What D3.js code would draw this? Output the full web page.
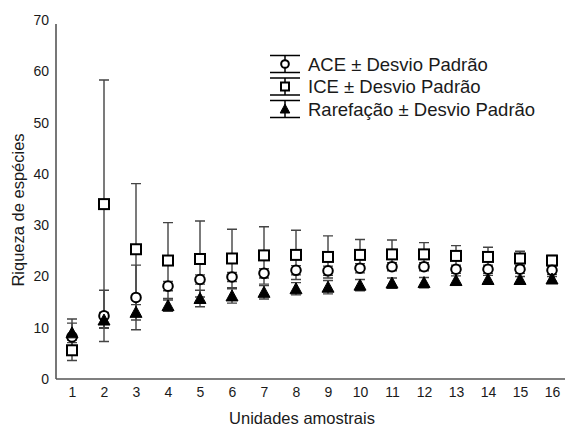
<!DOCTYPE html>
<html><head><meta charset="utf-8">
<script src="https://cdn.jsdelivr.net/npm/d3@7"></script>
<style>body{margin:0;background:#fff}svg{display:block;font-family:"Liberation Sans",Arial,sans-serif}</style>
</head><body><svg id="c" width="566" height="427"></svg>
<script>
const units = [1,2,3,4,5,6,7,8,9,10,11,12,13,14,15,16];
const ace    = [8.2,12.3,15.9,18.1,19.4,19.9,20.6,21.2,21.1,21.6,21.9,21.9,21.4,21.4,21.4,21.2];
const aceSd  = [3.5,5.0,6.3,0.9,0.9,0.9,0.9,0.9,0.9,0.9,0.8,0.8,0.8,0.8,0.8,0.8];
const ice    = [5.6,34.1,25.3,23.1,23.4,23.5,24.1,24.2,23.8,24.2,24.3,24.3,24.0,23.8,23.5,23.1];
const iceSd  = [2.0,24.2,12.8,7.4,7.4,5.7,5.6,4.8,4.1,3.0,2.8,2.3,2.0,1.9,1.4,1.0];
const rare   = [9.0,11.5,13.0,14.3,15.7,16.2,16.9,17.6,17.9,18.3,18.7,18.8,19.2,19.4,19.4,19.5];
const rareSd = [1.9,1.5,1.5,1.1,1.6,1.4,1.3,1.2,1.3,1.1,1.0,1.0,0.9,0.8,0.6,0.5];
const yTicks = [0,10,20,30,40,50,60,70];
const seriesNames = ["ACE ± Desvio Padrão","ICE ± Desvio Padrão","Rarefação ± Desvio Padrão"];

const svg = d3.select("#c");
const x = d3.scaleLinear().domain([1,16]).range([72,552]);
const y = d3.scaleLinear().domain([0,70]).range([379,20]);
const axisColor = "#555", textColor = "#1a1a1a";

// axes
const gy = svg.append("g").attr("transform","translate(56,0)")
  .call(d3.axisLeft(y).tickValues(yTicks).tickSize(0).tickPadding(7));
gy.select(".domain").attr("d",`M0,${y(69.2)}V${y(0)}`).attr("stroke",axisColor).attr("stroke-width",1.6);
gy.selectAll("text").attr("font-size",14).attr("fill",textColor).attr("font-family","Liberation Sans, Arial");

const gx = svg.append("g").attr("transform",`translate(0,${y(0)})`)
  .call(d3.axisBottom(x).tickValues(units).tickFormat(d3.format("d")).tickSize(0).tickPadding(8));
gx.select(".domain").attr("d",`M56,0H565`).attr("stroke",axisColor).attr("stroke-width",1.6);
gx.selectAll("text").attr("font-size",14).attr("fill",textColor).attr("font-family","Liberation Sans, Arial");

svg.append("text").attr("x",302).attr("y",424).attr("text-anchor","middle")
  .attr("font-size",16.5).attr("fill",textColor).text("Unidades amostrais");
svg.append("text").attr("transform","translate(24,210) rotate(-90)").attr("text-anchor","middle")
  .attr("font-size",16.5).attr("fill",textColor).text("Riqueza de espécies");

const series = [
  {v:ice, sd:iceSd, shape:"square"},
  {v:ace, sd:aceSd, shape:"circle"},
  {v:rare, sd:rareSd, shape:"triangle"}
];
const cap = 5;
const eb = svg.append("g").attr("stroke","#444").attr("stroke-width",1.4).attr("fill","none");
series.forEach(s=>{
  units.forEach((u,i)=>{
    const cx = x(u), y1 = y(s.v[i]+s.sd[i]), y2 = y(s.v[i]-s.sd[i]);
    eb.append("path").attr("d",`M${cx},${y1}V${y2}M${cx-cap},${y1}H${cx+cap}M${cx-cap},${y2}H${cx+cap}`);
  });
});

function marker(g, shape, cx, cy, k){
  if(shape==="square"){
    g.append("rect").attr("x",cx-5*k).attr("y",cy-5*k).attr("width",10*k).attr("height",10*k)
      .attr("fill","#fff").attr("stroke","#000").attr("stroke-width",2);
  } else if(shape==="circle"){
    g.append("circle").attr("cx",cx).attr("cy",cy).attr("r",4.8*k)
      .attr("fill","#fff").attr("stroke","#000").attr("stroke-width",2);
  } else {
    g.append("path").attr("d",`M${cx},${cy-6*k}L${cx+6*k},${cy+5*k}L${cx-6*k},${cy+5*k}Z`)
      .attr("fill","#000").attr("stroke","#000").attr("stroke-width",1);
  }
}
const mk = svg.append("g");
series.forEach(s=>{ units.forEach((u,i)=> marker(mk, s.shape, x(u), y(s.v[i]), 1)); });

// legend
const legShapes = ["circle","square","triangle"];
const lg = svg.append("g");
legShapes.forEach((sh,i)=>{
  const cy = 64 + i*22.5, lx = 285;
  lg.append("path").attr("d",`M${lx},${cy-8.5}V${cy+8.5}M${lx-15},${cy-8.5}H${lx+15}M${lx-15},${cy+8.5}H${lx+15}`)
    .attr("stroke","#000").attr("stroke-width",1.5).attr("fill","none");
  marker(lg, sh, lx, cy, 0.8);
  lg.append("text").attr("x",308).attr("y",cy+6.5).attr("font-size",18.5).attr("fill",textColor).text(seriesNames[i]);
});
</script></body></html>
